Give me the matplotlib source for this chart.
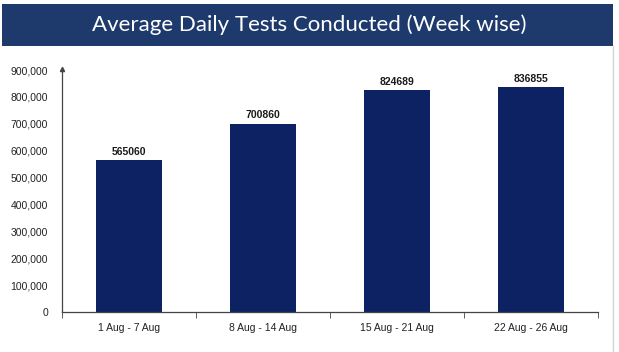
import numpy as np
import matplotlib.pyplot as plt
from matplotlib.patches import Rectangle
from matplotlib.ticker import FuncFormatter

weeks = ["1 Aug - 7 Aug", "8 Aug - 14 Aug", "15 Aug - 21 Aug", "22 Aug - 26 Aug"]
avg_tests = [565060, 700860, 824689, 836855]
yticks = [0, 100000, 200000, 300000, 400000, 500000, 600000, 700000, 800000, 900000]

bar_color = "#0c2262"
banner_color = "#1e3a6c"

fig = plt.figure(figsize=(6.19, 3.52), dpi=100)
fig.patch.set_facecolor("white")

# title banner
fig.patches.append(Rectangle((0.003, 0.869), 0.987, 0.12, transform=fig.transFigure,
                             facecolor=banner_color, edgecolor="none", zorder=0))
fig.text(0.5, 0.929, "Average Daily Tests Conducted (Week wise)", ha="center", va="center",
         color="white", fontsize=16, family="Lato")
# thin slide border on the right
fig.add_artist(plt.Line2D([0.99, 0.99], [0.0, 0.87], transform=fig.transFigure,
                          color="#d4d4d4", lw=1))

ax = fig.add_axes([0.1002, 0.1136, 0.8658, 0.6874])
x = np.arange(len(weeks))
ax.bar(x, avg_tests, width=0.49, color=bar_color, zorder=2)
for xi, v in zip(x, avg_tests):
    ax.text(xi, v + 12000, str(v), ha="center", va="bottom", fontsize=7.5,
            fontweight="bold", color="#1a1a1a", family="Liberation Sans")

ax.set_xlim(-0.5, len(weeks) - 0.5)
ax.set_ylim(0, 900000)
ax.set_yticks(yticks)
ax.yaxis.set_major_formatter(FuncFormatter(lambda v, p: f"{int(v):,}"))
ax.set_xticks(x)
ax.set_xticklabels(weeks)
ax.set_xticks(np.arange(-0.5, len(weeks)), minor=True)
ax.tick_params(axis="x", which="major", length=0, pad=8, labelsize=7.5, colors="#222222")
ax.tick_params(axis="x", which="minor", length=4, direction="out", color="#444444")
ax.tick_params(axis="y", length=0, pad=10, labelsize=7.5, colors="#222222")
for lab in ax.get_xticklabels() + ax.get_yticklabels():
    lab.set_family("Liberation Sans")

for s in ["top", "right"]:
    ax.spines[s].set_visible(False)
ax.spines["left"].set_color("#444444")
ax.spines["bottom"].set_color("#444444")
ax.spines["left"].set_linewidth(0.9)
ax.spines["bottom"].set_linewidth(0.9)
# arrow head on y axis
ax.plot(-0.5, 905000, marker="^", markersize=3, color="#444444", clip_on=False, zorder=3)

fig.savefig("out.png", dpi=100)
